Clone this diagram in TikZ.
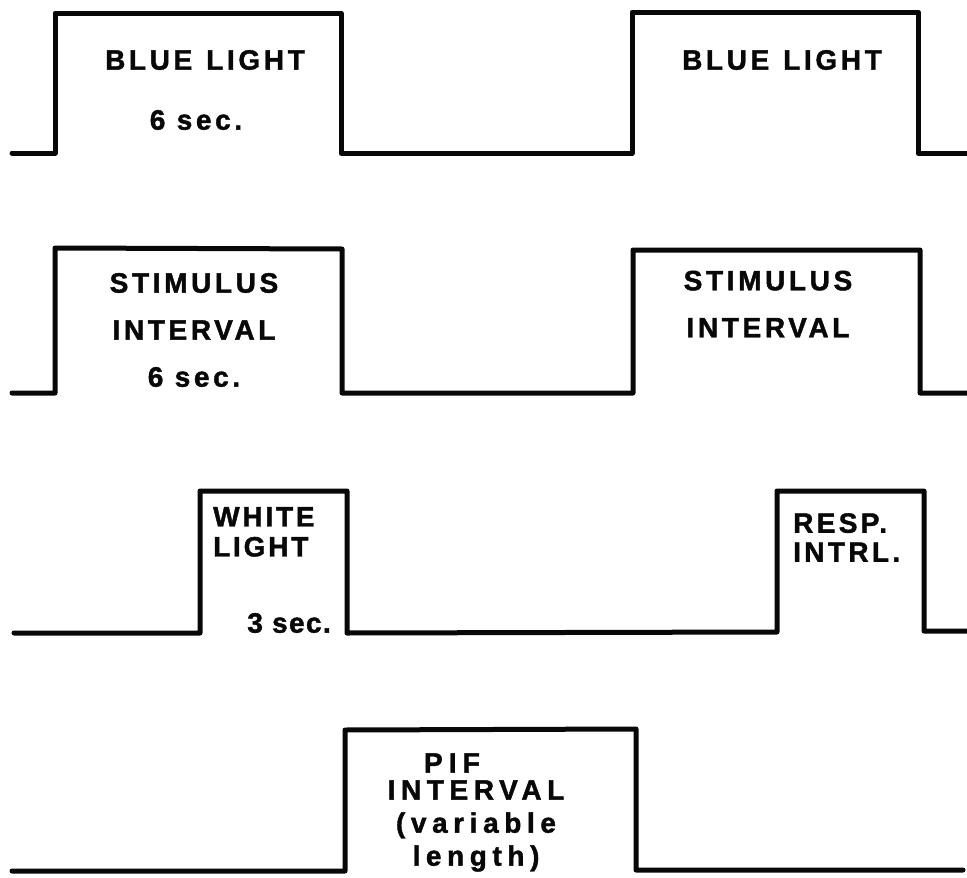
\documentclass[tikz,border=0pt]{standalone}
\usepackage{fontspec}
\setmainfont{Liberation Sans}
\newfontfamily\lettering[LetterSpace=13, BoldFeatures={FakeBold=1.5}]{Liberation Sans}
\begin{document}
\begin{tikzpicture}[x=1pt,y=-1pt]

	% Farben
	\definecolor{ink}{RGB}{8,8,8}
	\definecolor{paper}{RGB}{255,255,255}

	\tikzset{
		pulse/.style={draw=ink, line width=5pt, line join=round, line cap=round},
		lbl/.style={text=ink, inner sep=0pt, font=\lettering\bfseries\fontsize{28}{47}\selectfont},
	}

	% Hintergrund
	\fill[paper] (0,0) rectangle (967,878);
	\useasboundingbox (0,0) rectangle (967,878);

	% Zeile 1: blaues Licht
	\draw[pulse] (12,153) -- (55,153) -- (55,13) -- (341,13) -- (341,153) -- (632,153) -- (632,12) -- (918,12) -- (918,153) -- (967,153);
	\node[lbl] (blue1) at (205,60) {BLUE\hspace{14pt}LIGHT};
	\node[lbl] (blue1t) at (196,120) {6 sec.};
	\node[lbl] (blue2) at (782,60) {BLUE\hspace{14pt}LIGHT};

	% Zeile 2: Stimulusintervall
	\draw[pulse] (12,393) -- (55,393) -- (55,248) -- (342,249) -- (342,393) -- (633,393) -- (633,250) -- (920,250) -- (920,393) -- (967,393);
	\node[lbl, align=center] (stim1) at (194,330) {STIMULUS\\INTERVAL\\6 sec.};
	\node[lbl, align=center] (stim2) at (768,304) {STIMULUS\\INTERVAL};

	% Zeile 3: weisses Licht / Antwortintervall
	\draw[pulse] (14,633) -- (200,633) -- (200,491) -- (347,491) -- (347,633) -- (777,632) -- (777,491) -- (924,491) -- (924,631) -- (967,631);
	\node[lbl, align=left, anchor=north west, font=\lettering\bfseries\addfontfeature{LetterSpace=10}\fontsize{28}{30}\selectfont] (white) at (213,507) {WHITE\\LIGHT};
	\node[lbl, anchor=east, font=\lettering\bfseries\addfontfeature{LetterSpace=5}\fontsize{28}{30}\selectfont] (white t) at (331,623) {3 sec.};
	\node[lbl, align=left, anchor=north west, font=\lettering\bfseries\addfontfeature{LetterSpace=12}\fontsize{28}{29}\selectfont] (resp) at (793,513) {RESP.\\INTRL.};

	% Zeile 4: PIF-Intervall
	\draw[pulse] (12,871) -- (345,871) -- (345,730) -- (636,729) -- (636,870) -- (963,870);
	\node[lbl, font=\lettering\bfseries\addfontfeature{LetterSpace=22}\fontsize{28}{32}\selectfont] (pif) at (452,763) {PIF};
	\node[lbl, align=center, font=\lettering\bfseries\addfontfeature{LetterSpace=20}\fontsize{28}{33}\selectfont] (pif t) at (476,826) {INTERVAL\\(variable\\length)};

\end{tikzpicture}
\end{document}
